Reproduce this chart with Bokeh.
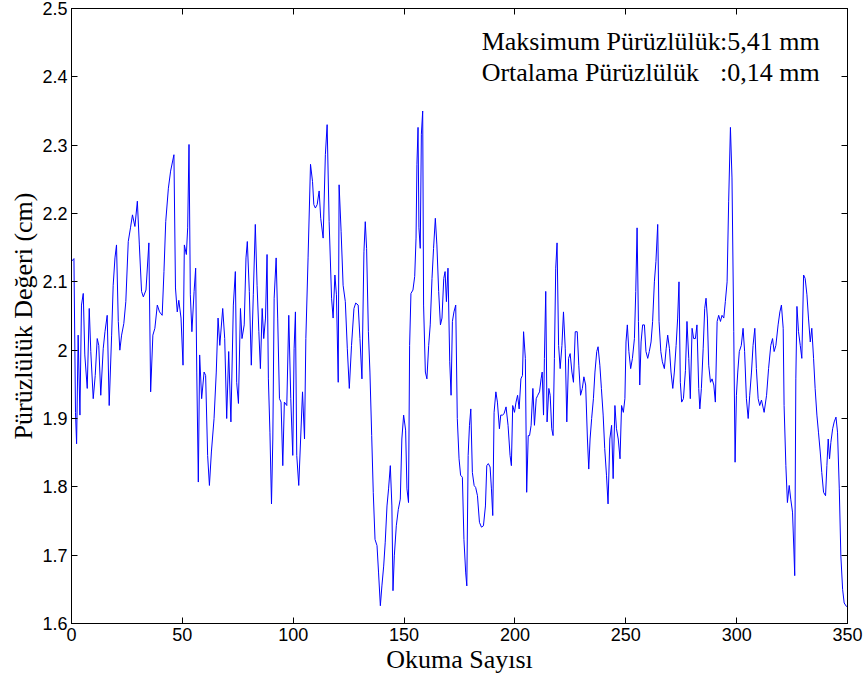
from bokeh.plotting import figure
from bokeh.models import LinearAxis, Range1d, FixedTicker, PrintfTickFormatter
from bokeh.core.properties import value
from bokeh.embed import file_html
from bokeh.resources import INLINE

okuma = [0, 1.1, 1.8, 2.3, 3.0, 3.8, 4.5, 5.3, 6.0, 7.1, 8.0, 8.7, 9.8, 10.7, 11.6, 12.3, 13.2, 14.3, 15.1, 16.1,
         17.0, 18.1, 18.8, 19.6, 20.3, 21.1, 21.8, 22.6, 23.6, 24.5, 25.6, 26.6, 27.5, 28.6, 29.7, 30.6, 31.6, 32.4, 33.6,
         34.9, 35.7, 36.7, 37.6, 38.7, 39.7, 40.9, 41.7, 42.5, 43.7, 44.7, 46.2, 46.9, 47.7, 48.4, 49.4, 50.3, 50.9,
         51.8, 52.4, 53.0, 53.6, 54.3, 55.3, 56.0, 56.5, 57.2, 57.8, 58.7, 59.8, 60.5, 61.4, 62.2, 63.1, 64.3, 65.3,
         66.1, 66.9,
         68.2, 69.1, 70.0, 70.9, 71.9, 73.0, 73.9, 74.5, 75.3, 76.2, 76.9, 77.9, 78.7, 79.3, 80.2, 81.1, 82.0, 82.9,
         83.7, 84.5, 85.2, 86.0, 86.7, 87.5, 88.2, 88.8, 89.5, 90.2, 90.8, 91.4, 92.3, 93.0, 93.8, 94.5, 95.3, 96.0,
         97.1, 98.0, 98.9, 99.8, 100.4, 101.0, 101.6, 102.5,
         104.2, 105.1, 105.7, 106.7, 107.8, 108.7, 109.3, 110.0, 110.8, 111.7, 112.4, 113.5, 114.5, 115.3, 116.2,
         117.3, 118.0, 118.8, 119.5, 120.3, 120.7, 121.6, 122.5, 123.5, 124.4, 125.3, 126.3, 127.4, 128.2, 129.3,
         130.1, 131.0, 131.9, 132.5, 133.1, 133.9, 134.6, 135.4, 136.1, 136.9,
         137.8, 138.5, 139.3, 140.0, 140.8, 141.5, 142.3, 143.0, 143.8, 144.5, 145.0, 145.6, 146.5, 147.4, 148.3,
         149.0, 149.8, 150.7, 151.3, 152.0, 152.5, 153.1, 154.0, 154.8, 155.4, 155.8, 156.3, 156.7, 157.3, 157.8,
         158.4, 158.8, 159.6, 160.3, 161.1, 161.8, 162.6, 163.3, 164.1, 164.8, 165.6, 166.4, 167.1, 167.9, 168.5,
         169.1, 169.8, 170.6, 171.2, 171.8,
         172.5, 173.3, 174.0, 174.8, 175.5, 176.3, 177.0, 177.8, 178.3, 178.9, 179.5, 180.1, 180.8, 181.6, 182.3,
         183.1, 184.0, 184.9, 185.8, 186.7, 187.3, 188.0, 188.8, 189.4, 190.0, 190.6, 191.4, 192.1, 193.0, 193.6,
         194.4, 195.1, 196.0, 196.9, 197.8, 198.4, 199.0, 199.8, 200.5, 201.2, 201.9, 202.7, 203.4, 203.9, 204.7,
         205.3, 206.0, 206.6,
         207.3, 208.1, 208.8, 209.6, 210.3, 211.1, 211.8, 212.3, 212.9, 213.3, 213.9, 214.5, 215.3, 215.9, 216.6,
         217.2, 217.8, 218.4, 219.0, 219.7, 220.4, 221.2, 221.9, 222.7, 223.4, 224.2, 224.9, 225.7, 226.4, 227.2,
         228.1, 228.8, 229.6, 230.4, 231.1, 231.9, 232.7, 233.3, 233.9, 234.6, 235.4, 236.1, 236.9, 237.5, 238.3,
         239.0, 239.8, 240.5, 241.3, 242.0,
         242.8, 243.6, 244.3, 245.1, 245.8, 246.6, 247.4, 248.1, 248.9, 249.6, 250.1, 250.7, 251.4, 252.2, 253.0,
         253.9, 254.5, 255.1, 255.7, 256.3, 256.9, 257.6, 258.4, 259.1, 259.9, 260.6, 261.4, 262.1, 262.9, 263.6,
         264.4, 265.0, 265.8, 266.5, 267.4, 268.2, 268.9, 269.7, 270.4, 271.2, 271.9, 272.7, 273.4, 274.0, 274.6,
         275.2, 276.0,
         276.9, 277.6, 278.4, 279.1, 279.9, 280.6, 281.4, 282.1, 282.9, 283.4, 284.1, 284.9, 285.6, 286.2, 286.8,
         287.4, 288.2, 288.9, 289.7, 290.4, 291.2, 291.9, 292.7, 293.4, 294.2, 294.9, 295.7, 296.4, 297.2, 297.9,
         298.7, 299.3, 299.9, 300.5, 301.2, 302.1, 302.9, 303.6, 304.4, 305.2, 305.9, 306.7, 307.4, 308.2, 308.9,
         309.7, 310.4, 311.2,
         312.4, 313.5, 314.4, 315.4, 316.2, 316.9, 317.7, 318.7, 319.5, 320.2, 321.0, 321.4, 322.2, 322.9, 323.7,
         324.4, 325.2, 325.8, 326.2, 326.7, 327.2, 327.9, 328.7, 329.4, 330.2, 330.9, 331.7, 332.4, 333.2, 333.9,
         334.7, 335.4, 336.2, 336.9, 337.7, 338.4, 339.2, 340.1, 340.7, 341.3, 341.9, 342.5, 343.3, 344.0, 344.8,
         345.5, 346.3, 347.0, 347.8, 348.5, 349.5, 350.0]

deger = [2.13, 2.134, 1.909, 1.863, 2.022, 1.905, 2.066, 2.083, 1.993, 1.944, 2.061, 1.998, 1.929, 1.963, 2.017, 2.007,
         1.934, 2.002, 2.027, 2.051, 1.919, 2.022, 2.095, 2.135, 2.154, 2.042, 2.000, 2.022, 2.039, 2.071, 2.159, 2.179,
         2.198, 2.181, 2.218, 2.154, 2.086, 2.078, 2.088,
         2.157, 1.939, 2.022, 2.032, 2.066, 2.056, 2.051, 2.115, 2.188, 2.237, 2.262, 2.286, 2.091, 2.056, 2.073, 2.047,
         1.978, 2.154, 2.140, 2.179, 2.301, 2.081, 2.027, 2.086, 2.120, 1.968, 1.807, 1.993, 1.929, 1.968, 1.963, 1.846,
         1.802, 1.851, 1.900, 1.968, 2.047, 2.007,
         2.061, 2.017, 1.900, 1.998, 1.895, 2.066, 2.115, 1.953, 1.922, 2.061, 2.017, 2.037, 2.135, 2.159, 2.086, 1.978,
         2.081, 2.184, 2.095, 2.027, 1.973, 2.061, 2.017, 2.047, 2.140, 1.958, 1.880, 1.775, 1.870, 2.076, 2.135, 2.047,
         1.929, 1.924, 1.831, 1.924, 1.919, 2.051, 1.929, 1.846, 2.002, 2.056, 1.846, 1.802,
         1.939, 1.870, 2.017, 2.135, 2.272, 2.247, 2.213, 2.208, 2.213, 2.233, 2.193, 2.164, 2.286, 2.330, 2.188, 2.076,
         2.047, 2.110, 2.081, 1.953, 2.242, 2.174, 2.095, 2.071, 2.002, 1.944, 2.007, 2.061, 2.069, 2.066, 2.017, 1.958,
         2.144, 2.188, 2.149, 2.027, 1.968, 1.875, 1.792, 1.723,
         1.714, 1.674, 1.626, 1.655, 1.684, 1.719, 1.772, 1.797, 1.831, 1.772, 1.648, 1.699, 1.743, 1.767, 1.782, 1.870,
         1.905, 1.883, 1.797, 1.777, 2.007, 2.083, 2.088, 2.108, 2.164, 2.272, 2.326, 2.179, 2.149, 2.316, 2.350, 2.066,
         1.968, 1.958, 2.007, 2.037, 2.105, 2.149, 2.193, 2.154, 2.086, 2.037, 2.047, 2.105, 2.115, 2.071, 2.120, 1.983,
         1.934, 2.042,
         2.056, 2.066, 1.900, 1.841, 1.817, 1.814, 1.723, 1.674, 1.655, 1.846, 1.890, 1.914, 1.821, 1.802, 1.799, 1.787,
         1.748, 1.741, 1.743, 1.772, 1.831, 1.834, 1.829, 1.797, 1.758, 1.909, 1.939, 1.924, 1.885, 1.905, 1.905, 1.907,
         1.917, 1.890, 1.846, 1.831, 1.919, 1.909, 1.924, 1.934, 1.914, 1.958, 1.963, 2.027, 1.988, 1.792, 1.875, 1.875,
         1.890, 1.944, 1.890, 1.929, 1.934, 1.939, 1.958, 1.968, 1.905, 1.988, 2.086, 1.895, 1.944, 1.934, 1.885, 1.875,
         1.988, 2.120, 2.157, 2.007, 1.973, 2.007, 2.056, 2.002, 1.895, 1.988, 1.995, 1.968, 1.953, 2.027, 2.027, 1.978,
         1.934, 1.944, 1.961, 1.949, 1.870, 1.826, 1.870, 1.900, 1.929, 1.968, 1.998, 2.005, 1.978, 1.944, 1.905, 1.856,
         1.817, 1.775,
         1.870, 1.890, 1.812, 1.919, 1.885, 1.870, 1.841, 1.919, 1.909, 1.929, 2.012, 2.037, 1.998, 1.973, 1.988, 2.017,
         2.086, 2.179, 2.042, 1.949, 2.012, 2.037, 2.037, 1.998, 1.988, 1.998, 2.012, 2.042, 2.100, 2.130, 2.184, 2.042,
         1.998, 1.983, 1.973, 2.002, 2.022, 2.002, 1.968, 1.944, 1.968, 2.007, 2.047, 2.100, 1.953, 1.924, 1.929,
         1.970, 2.042, 1.988, 1.929, 2.032, 2.017, 2.017, 2.037, 1.944, 1.914, 1.944, 2.002, 2.061, 2.076, 2.047, 1.978,
         1.953, 1.958, 1.949, 1.924, 2.042, 2.051, 2.042, 2.051, 2.047, 2.071, 2.100, 2.218, 2.326, 2.252, 2.027, 1.836,
         1.934, 1.968, 1.998, 2.007, 2.032, 1.998, 1.929, 1.900, 1.934, 1.968, 2.007, 2.032, 1.973, 1.929, 1.919, 1.927,
         1.909, 1.934, 1.973, 2.007, 2.017, 1.998, 2.007, 2.037, 2.056, 2.066, 2.032, 1.919, 1.831, 1.777, 1.802, 1.782,
         1.763, 1.709, 1.670, 1.958, 2.064, 2.027, 2.007, 1.988, 2.110, 2.105, 2.081, 2.047, 2.012, 2.032, 1.988, 1.944,
         1.905, 1.880, 1.851, 1.821, 1.792, 1.787, 1.831, 1.870, 1.841, 1.865, 1.885, 1.895, 1.902, 1.880, 1.797, 1.699,
         1.650, 1.630, 1.625, 1.625]

x_ticks = [0, 50, 100, 150, 200, 250, 300, 350]
y_ticks = [1.6, 1.7, 1.8, 1.9, 2.0, 2.1, 2.2, 2.3, 2.4, 2.5]

x_title = "Okuma Sayısı"
y_title = "Pürüzlülük Değeri (cm)"

annot_names = ["Maksimum Pürüzlülük", "Ortalama Pürüzlülük"]
annot_values = [":5,41 mm", ":0,14 mm"]
annot_x_name = [185, 185]
annot_x_value = [292.5, 292.5]
annot_y = [2.452, 2.407]

p = figure(width=864, height=680, x_range=Range1d(0, 350), y_range=Range1d(1.6, 2.5),
           output_backend="svg", toolbar_location=None,
           min_border_left=71, min_border_right=17, min_border_top=8, min_border_bottom=57)
p.background_fill_color = "white"
p.border_fill_color = "white"
p.outline_line_color = "black"
p.outline_line_width = 1
p.xgrid.visible = False
p.ygrid.visible = False

SERIF = "Liberation Serif"
SANS = "Liberation Sans"

for ax in p.xaxis:
    ax.ticker = FixedTicker(ticks=x_ticks)
    ax.axis_label = x_title
for ax in p.yaxis:
    ax.ticker = FixedTicker(ticks=y_ticks)
    ax.formatter = PrintfTickFormatter(format="%g")
    ax.axis_label = y_title

for ax in list(p.xaxis) + list(p.yaxis):
    ax.major_tick_in = 6
    ax.major_tick_out = 0
    ax.minor_tick_line_color = None
    ax.axis_line_color = "black"
    ax.major_tick_line_color = "black"
    ax.major_label_text_font = SANS
    ax.major_label_text_font_size = "18px"
    ax.major_label_text_color = "black"
    ax.major_label_standoff = 4
    ax.axis_label_text_font = SERIF
    ax.axis_label_text_font_size = "26px"
    ax.axis_label_text_font_style = "normal"
    ax.axis_label_text_color = "black"
    ax.axis_label_standoff = 1

top = LinearAxis(ticker=FixedTicker(ticks=x_ticks), major_label_text_font_size="1px",
                 major_label_text_color=None, major_label_standoff=0, major_tick_in=6, major_tick_out=0,
                 minor_tick_line_color=None, axis_line_color="black", major_tick_line_color="black")
right = LinearAxis(ticker=FixedTicker(ticks=y_ticks), major_label_text_font_size="1px",
                   major_label_text_color=None, major_label_standoff=0, major_tick_in=6, major_tick_out=0,
                   minor_tick_line_color=None, axis_line_color="black", major_tick_line_color="black")
p.add_layout(top, "above")
p.add_layout(right, "right")

p.line(okuma, deger, line_color="#0000ff", line_width=1)

p.text(x=annot_x_name, y=annot_y, text=annot_names, text_font=value(SERIF), text_font_size="26px",
       text_baseline="middle", text_align="left", text_color="black")
p.text(x=annot_x_value, y=annot_y, text=annot_values, text_font=value(SERIF), text_font_size="26px",
       text_baseline="middle", text_align="left", text_color="black")

open("out.html", "w").write(file_html(p, INLINE))
